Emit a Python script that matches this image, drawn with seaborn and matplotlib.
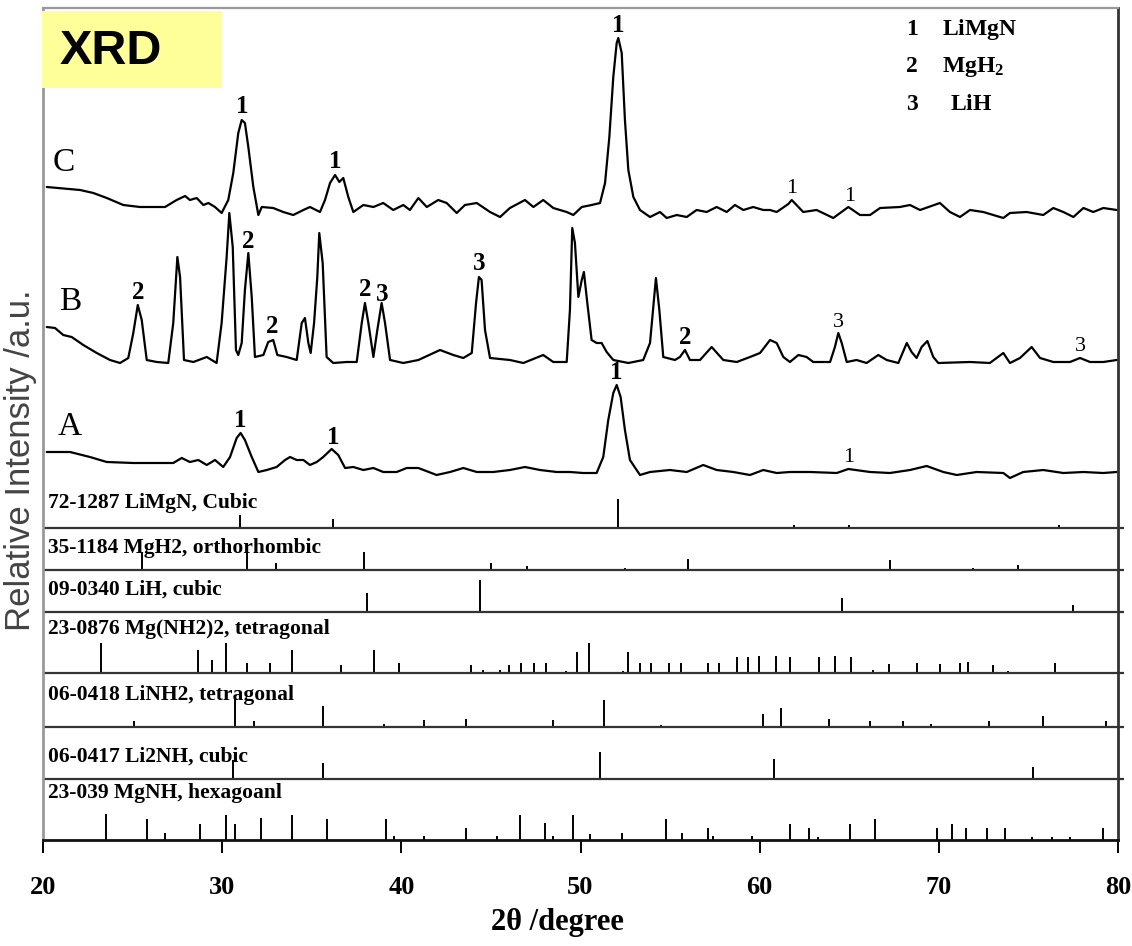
import numpy as np
import pandas as pd
import matplotlib
matplotlib.use("Agg")
import matplotlib.pyplot as plt
from matplotlib.patches import Rectangle
import seaborn as sns

# ---------------- measured diffraction patterns ----------------
# 2θ in degree, intensity in a.u. above each pattern's own baseline
two_theta_C = [20.21, 22.07, 22.81, 23.56, 24.48, 25.41, 26.81, 27.18, 27.46, 27.93,
               28.20, 28.58, 28.95, 29.23, 29.60, 29.97, 30.34, 30.62, 30.90, 31.09,
               31.27, 31.46, 31.74, 32.02, 32.21, 32.85, 33.41, 33.97, 34.53, 34.90,
               35.46, 35.74, 36.02, 36.30, 36.54, 36.76, 37.04, 37.32, 37.88, 38.44,
               38.99, 39.55, 40.11, 40.48, 40.95, 41.42, 42.06, 42.53, 43.09, 43.55,
               44.21, 44.95, 45.51, 46.06, 46.90, 47.37, 47.92, 48.48, 49.23, 49.60,
               50.07, 50.62, 51.09, 51.37, 51.61, 51.83, 52.02, 52.11, 52.30, 52.48,
               52.67, 52.95, 53.32, 53.88, 54.44, 54.81, 55.37, 55.93, 56.48, 57.04,
               57.60, 58.16, 58.62, 59.09, 59.64, 60.20, 60.58, 60.95, 61.60, 61.79,
               62.43, 63.18, 64.11, 64.95, 65.60, 66.16, 66.72, 67.83, 68.39, 68.95,
               70.06, 70.62, 71.18, 71.74, 72.48, 73.60, 73.97, 74.90, 75.83, 76.39,
               76.95, 77.51, 78.07, 78.62, 79.18, 79.93]
intensity_C = [33, 30, 27, 22, 15, 13, 13, 17, 20, 24,
               20, 22, 15, 17, 13, 7, 20, 47, 87, 100,
               97, 73, 33, 5, 13, 12, 8, 5, 10, 13,
               8, 20, 37, 45, 38, 42, 23, 8, 15, 13,
               17, 10, 15, 10, 22, 13, 20, 17, 7, 15,
               17, 8, 3, 12, 20, 13, 20, 12, 8, 5,
               13, 15, 17, 37, 83, 143, 177, 182, 167, 100,
               50, 23, 10, 3, 8, 2, 5, 3, 10, 8,
               13, 8, 15, 10, 13, 10, 10, 8, 16, 20,
               8, 10, 2, 13, 5, 5, 12, 13, 15, 10,
               17, 8, 3, 10, 8, 2, 7, 8, 5, 12,
               8, 3, 12, 8, 12, 10]

two_theta_B = [20.21, 20.67, 21.13, 21.60, 22.25, 23.00, 23.74, 24.30, 24.76, 25.04,
               25.29, 25.51, 25.79, 26.35, 26.99, 27.27, 27.50, 27.65, 27.87, 28.39,
               29.14, 29.69, 29.97, 30.25, 30.40, 30.59, 30.77, 30.90, 31.09, 31.27,
               31.46, 31.65, 31.83, 32.30, 32.57, 32.85, 33.08, 33.60, 34.16, 34.44,
               34.62, 34.81, 34.94, 35.13, 35.31, 35.42, 35.61, 35.83, 36.20, 36.95,
               37.51, 37.79, 37.97, 38.16, 38.44, 38.66, 38.90, 39.09, 39.37, 40.11,
               40.95, 42.16, 42.90, 43.46, 43.93, 44.17, 44.33, 44.48, 44.67, 44.95,
               46.06, 46.81, 47.92, 48.48, 49.23, 49.41, 49.54, 49.69, 49.88, 50.07,
               50.19, 50.38, 50.62, 50.90, 51.18, 51.46, 51.83, 52.67, 53.50, 53.88,
               54.21, 54.40, 54.62, 55.27, 55.55, 55.83, 56.11, 56.67, 57.32, 57.97,
               58.72, 59.46, 60.02, 60.58, 60.95, 61.32, 61.69, 62.16, 62.62, 62.99,
               63.93, 64.20, 64.39, 64.58, 64.86, 65.41, 65.97, 66.62, 67.09, 67.74,
               68.21, 68.48, 68.76, 69.04, 69.36, 69.69, 69.97, 71.74, 72.85, 73.60,
               73.97, 74.53, 75.18, 75.65, 76.39, 77.32, 77.88, 78.44, 79.18, 79.93]
intensity_B = [38, 37, 30, 28, 20, 12, 5, 2, 7, 32,
               60, 45, 5, 3, 2, 42, 108, 88, 5, 3,
               8, 2, 42, 108, 152, 118, 15, 10, 22, 75,
               112, 68, 8, 10, 23, 25, 10, 8, 5, 42,
               47, 22, 12, 42, 88, 132, 102, 8, 2, 3,
               3, 42, 62, 42, 8, 35, 62, 42, 5, 2,
               5, 15, 10, 7, 12, 62, 88, 85, 35, 7,
               5, 2, 10, 3, 3, 55, 137, 122, 68, 85,
               93, 62, 25, 22, 22, 13, 5, 2, 5, 22,
               87, 55, 8, 5, 8, 15, 5, 5, 18, 5,
               3, 8, 12, 25, 22, 8, 3, 10, 8, 3,
               3, 18, 32, 22, 3, 5, 2, 10, 5, 2,
               22, 13, 7, 18, 24, 8, 2, 3, 2, 12,
               2, 7, 18, 7, 3, 3, 7, 3, 3, 5]

two_theta_A = [20.21, 21.51, 22.62, 23.56, 25.04, 27.27, 27.74, 28.20, 28.67, 29.14,
               29.60, 30.06, 30.44, 30.81, 31.03, 31.27, 31.65, 32.02, 32.49, 33.04,
               33.51, 33.79, 34.16, 34.53, 34.90, 35.28, 35.64, 36.11, 36.48, 36.86,
               37.32, 37.88, 38.44, 38.99, 39.74, 40.30, 40.95, 41.97, 42.72, 43.46,
               44.21, 45.13, 46.06, 46.90, 47.74, 48.67, 49.41, 50.16, 50.90, 51.27,
               51.55, 51.83, 52.02, 52.24, 52.48, 52.76, 53.32, 53.88, 54.99, 55.93,
               56.85, 57.60, 58.53, 59.46, 60.20, 60.95, 61.69, 62.81, 64.30, 64.95,
               66.16, 67.27, 68.39, 69.32, 70.25, 71.00, 72.11, 73.60, 73.97, 74.71,
               75.83, 76.95, 78.07, 79.18, 79.93]
intensity_A = [26, 26, 21, 16, 15, 15, 20, 16, 18, 13,
               18, 11, 21, 40, 45, 38, 21, 6, 8, 11,
               18, 21, 18, 18, 13, 16, 21, 29, 23, 10,
               11, 8, 10, 6, 6, 10, 10, 3, 6, 10,
               6, 6, 8, 11, 8, 6, 6, 5, 5, 21,
               58, 85, 93, 81, 48, 18, 3, 6, 8, 6,
               13, 8, 6, 3, 8, 5, 6, 6, 5, 9,
               6, 5, 8, 12, 6, 3, 6, 5, 0, 6,
               8, 5, 6, 5, 6]

# phase markers on the patterns (1 LiMgN, 2 MgH2, 3 LiH)
marks_C = [(31.10, "1"), (36.30, "1"), (52.10, "1"), (61.80, "1"), (65.00, "1")]
marks_B = [(25.30, "2"), (31.45, "2"), (32.80, "2"), (37.97, "2"), (38.95, "3"),
           (44.35, "3"), (55.85, "2"), (64.40, "3"), (77.90, "3")]
marks_A = [(31.00, "1"), (36.20, "1"), (52.00, "1"), (64.95, "1")]

# ---------------- reference cards: line positions (2θ) and heights ----------------
card_titles = ["72-1287 LiMgN, Cubic", "35-1184 MgH2, orthorhombic", "09-0340 LiH, cubic",
               "23-0876 Mg(NH2)2, tetragonal", "06-0418 LiNH2, tetragonal",
               "06-0417 Li2NH, cubic", "23-039 MgNH, hexagoanl"]

limgn_pos = [31.0, 36.2, 52.1, 61.9, 65.0, 76.7]
limgn_h = [13, 9, 29, 3, 3, 3]
mgh2_pos = [25.5, 31.4, 33.0, 37.9, 45.0, 47.0, 52.5, 56.0, 67.3, 71.9, 74.4]
mgh2_h = [18, 27, 7, 18, 7, 4, 2, 11, 10, 2, 5]
lih_pos = [38.1, 44.4, 64.6, 77.5]
lih_h = [19, 32, 14, 7]
mgnh22_pos = [23.26, 28.64, 29.41, 30.20, 31.38, 32.66, 33.90, 36.65, 38.49, 39.87,
              43.87, 44.55, 45.53, 46.00, 46.69, 47.39, 48.10, 49.20, 49.80, 50.49,
              52.36, 52.64, 53.33, 53.94, 54.92, 55.63, 57.10, 57.71, 58.73, 59.34,
              59.99, 60.92, 61.68, 63.30, 64.22, 65.10, 66.30, 67.20, 68.76, 70.08,
              71.18, 71.65, 73.03, 73.85, 76.47]
mgnh22_h = [30, 23, 13, 30, 10, 10, 23, 8, 23, 10,
            8, 3, 3, 8, 10, 10, 10, 2, 21, 30,
            2, 21, 10, 10, 10, 10, 10, 10, 16, 16,
            17, 17, 16, 16, 17, 16, 3, 9, 10, 9,
            10, 11, 8, 2, 10]
linh2_pos = [25.07, 30.69, 31.80, 35.65, 39.06, 41.24, 43.60, 48.46, 51.33, 54.49,
             60.21, 61.17, 63.87, 66.15, 67.99, 69.57, 72.81, 75.79, 79.34]
linh2_h = [6, 30, 6, 21, 3, 7, 8, 7, 27, 2, 13, 19, 8, 6, 6, 3, 6, 11, 6]
li2nh_pos = [30.63, 35.65, 51.09, 60.80, 75.23]
li2nh_h = [19, 16, 27, 20, 12]
mgnh_pos = [23.54, 25.78, 26.83, 28.77, 30.20, 30.69, 32.19, 33.90, 35.86, 39.17,
            39.60, 41.24, 43.61, 45.36, 46.60, 48.03, 48.46, 49.56, 50.55, 52.30,
            54.75, 55.67, 57.10, 57.37, 59.55, 61.68, 62.74, 63.27, 65.03, 66.41,
            69.92, 70.74, 71.51, 72.67, 73.69, 75.22, 76.34, 77.30, 79.19]
mgnh_h = [26, 21, 7, 16, 25, 16, 22, 25, 21, 21,
          4, 4, 12, 4, 25, 17, 4, 25, 6, 7,
          21, 7, 12, 4, 4, 16, 12, 3, 16, 21,
          12, 16, 12, 12, 12, 3, 3, 3, 12]

legend_numbers = ["1", "2", "3"]
legend_phases = [r"$\mathbf{LiMgN}$", r"$\mathbf{MgH_2}$", r"$\mathbf{LiH}$"]

# ---------------- layout ----------------
W, H = 1132, 946
pattern_offset = {"A": 362, "B": 475, "C": 620}
card_base = [312, 270, 228, 167, 113, 61, 0]
card_title_y = [337, 292, 250, 211, 145, 83, 47]

sns.set_theme(style="white")
plt.rcParams["font.family"] = ["Liberation Serif", "DejaVu Serif"]
plt.rcParams["text.color"] = "black"
plt.rcParams["axes.labelcolor"] = "black"
plt.rcParams["xtick.color"] = "black"
plt.rcParams["mathtext.fontset"] = "custom"
plt.rcParams["mathtext.rm"] = "Liberation Serif"
plt.rcParams["mathtext.bf"] = "Liberation Serif:bold"

fig = plt.figure(figsize=(W / 100, H / 100), dpi=100)
fig.patch.set_facecolor("white")
ax = fig.add_axes([43 / W, (H - 840) / H, 1075 / W, 832 / H])
ax.set_facecolor("white")

patterns = [("C", two_theta_C, intensity_C, marks_C),
            ("B", two_theta_B, intensity_B, marks_B),
            ("A", two_theta_A, intensity_A, marks_A)]

for name, tt, ii, marks in patterns:
    off = pattern_offset[name]
    df = pd.DataFrame({"two_theta": tt, "intensity": np.asarray(ii, float) + off})
    sns.lineplot(data=df, x="two_theta", y="intensity", ax=ax, color="black",
                 lw=1.6, estimator=None, sort=False, legend=False)
    for x, lab in marks:
        y = np.interp(x, tt, ii) + off
        small = x > 60
        ax.annotate(lab, (x, y), xytext=(0, 5), textcoords="offset points",
                    ha="center", va="baseline", color="black",
                    fontsize=16 if small else 18,
                    fontweight="normal" if small else "bold")

# sample names
ax.text(21.17, pattern_offset["C"] + 57, "C", fontsize=24, ha="center", va="center")
ax.text(21.5, pattern_offset["B"] + 63, "B", fontsize=24, ha="center", va="center")
ax.text(21.5, pattern_offset["A"] + 51, "A", fontsize=24, ha="center", va="center")

# reference cards
cards = [(limgn_pos, limgn_h), (mgh2_pos, mgh2_h), (lih_pos, lih_h),
         (mgnh22_pos, mgnh22_h), (linh2_pos, linh2_h), (li2nh_pos, li2nh_h),
         (mgnh_pos, mgnh_h)]
for (pos, hts), base, title, ty in zip(cards, card_base, card_titles, card_title_y):
    ax.vlines(pos, base, base + np.asarray(hts, float), color="black", lw=1.4)
    if base > 0:
        ax.plot([20, 80.35], [base, base], color="#333333", lw=1.6,
                clip_on=False, solid_capstyle="butt")
    ax.text(20.3, ty, title, fontsize=15.5, fontweight="bold", ha="left", va="center")

# phase legend
for k, (num, phase) in enumerate(zip(legend_numbers, legend_phases)):
    yy = 810 - 37 * k
    ax.text(68.5, yy, num, fontsize=17, fontweight="bold", ha="center", va="center")
    ax.text(70.15 + (0.45 if k == 2 else 0), yy, phase, fontsize=17, ha="left", va="center")

ax.set_xlim(20, 80)
ax.set_ylim(0, 832)
ax.set_xlabel("")
ax.set_ylabel("")
ax.set_yticks([])
ax.set_xticks(range(20, 81, 10))
ax.tick_params(axis="x", direction="out", length=9, width=1.4, pad=17,
               labelsize=19, colors="black", bottom=True)
for lab in ax.get_xticklabels():
    lab.set_fontweight("bold")

for side, col, lw in [("left", "#999999", 2.0), ("top", "#999999", 1.6),
                      ("right", "#333333", 2.0), ("bottom", "#111111", 2.0)]:
    ax.spines[side].set_visible(True)
    ax.spines[side].set_color(col)
    ax.spines[side].set_linewidth(lw)

fig.text(557 / W, 1 - 922 / H, "2θ /degree", fontsize=22, fontweight="bold",
         ha="center", va="center")
fig.text(21 / W, 1 - 460 / H, "Relative Intensity /a.u.", fontsize=25,
         family=["Liberation Sans", "DejaVu Sans"], color="#444444",
         rotation=90, ha="center", va="center")

# title badge
fig.patches.append(Rectangle((42 / W, 1 - 88 / H), 180 / W, 77 / H,
                             transform=fig.transFigure, facecolor="#FFFF99",
                             edgecolor="none", zorder=5))
fig.text(60 / W, 1 - 52 / H, "XRD", fontsize=35, fontweight="bold", color="black",
         family=["Liberation Sans", "DejaVu Sans"], ha="left", va="center", zorder=6)

fig.savefig("out.png", dpi=100)
